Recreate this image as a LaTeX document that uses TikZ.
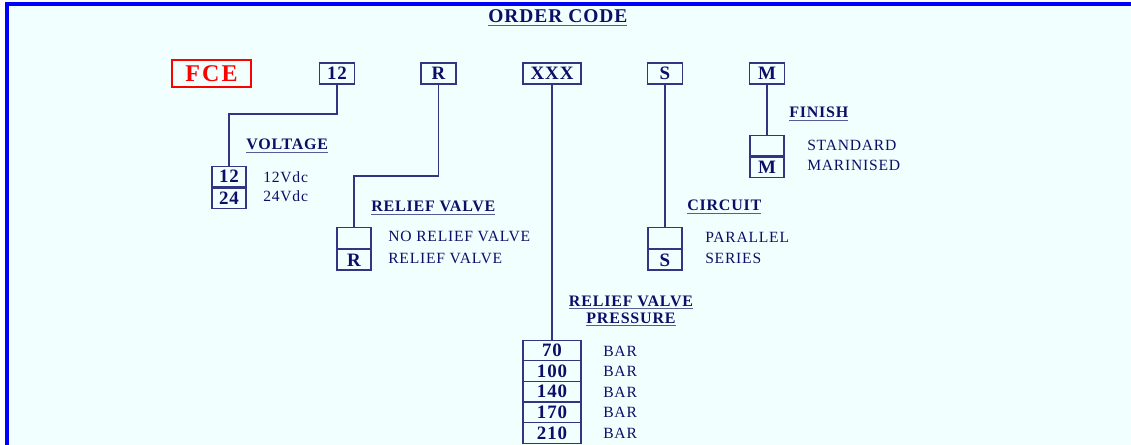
\documentclass[tikz,border=0pt]{standalone}
\usepackage{fontspec}
\setmainfont[LetterSpace=5]{Liberation Serif}
\newfontfamily\widefont[LetterSpace=9]{Liberation Serif}
\usetikzlibrary{positioning}

\definecolor{navy}{RGB}{14,14,104}
\definecolor{wirecol}{RGB}{52,52,130}
\definecolor{ulcol}{RGB}{90,90,150}
\definecolor{framecol}{RGB}{0,0,250}
\definecolor{bgcol}{RGB}{241,255,255}
\definecolor{fcered}{RGB}{255,0,0}

% underlined heading
\newcommand{\ulbl}[1]{\vtop{\hbox{#1}\kern1.2pt{\color{ulcol}\hrule height 1.1pt}}}

\tikzset{
  wire/.style={draw=wirecol, line width=1.1pt},
  codebox/.style={draw=wirecol, line width=1pt, inner sep=0pt, text=navy,
    minimum width=26.25pt, minimum height=15.75pt,
    font=\fontsize{14.2}{14.2}\selectfont\bfseries},
  optbox/.style={draw=wirecol, line width=1pt, inner sep=0pt, text=navy,
    minimum width=25.5pt, minimum height=15.4pt,
    font=\fontsize{14.2}{14.2}\selectfont\bfseries},
  heading/.style={anchor=base west, inner sep=0pt, text=navy,
    font=\fontsize{12}{12}\selectfont\bfseries},
  opttext/.style={anchor=base west, inner sep=0pt, text=navy,
    font=\fontsize{11.7}{11.7}\selectfont},
}

\begin{document}
\begin{tikzpicture}[x=0.75pt, y=-0.75pt]

  % ==========================================
  % frame and background
  % ==========================================
  \useasboundingbox (0,0) rectangle (1131,445);
  \fill[white] (0,0) rectangle (1131,445);
  \fill[bgcol] (8,5) rectangle (1131,445);
  \draw[framecol, line width=2.3pt] (7,445) -- (7,4) -- (1131,4);

  \node[heading, font=\fontsize{14.6}{14.6}\selectfont\bfseries] (title) at (488,23) {\ulbl{ORDER CODE}};

  % ==========================================
  % code fields
  % ==========================================
  \node[draw=fcered, line width=1pt, text=fcered, minimum width=59.25pt, minimum height=20.25pt,
        inner sep=0pt, font=\fontsize{18}{18}\selectfont\widefont\bfseries] (fce) at (211.5,73.5) {FCE};
  \node[codebox] (c12) at (337,73.5) {12};
  \node[codebox] (cR) at (438.5,73.5) {R};
  \node[codebox, minimum width=43.5pt] (cX) at (552,73.5) {XXX};
  \node[codebox] (cS) at (665,73.5) {S};
  \node[codebox] (cM) at (767,73.5) {M};

  % ==========================================
  % voltage
  % ==========================================
  \node[heading] (lV) at (246,150) {\ulbl{VOLTAGE}};
  \node[optbox] (v1) at (229,176.5) {12};
  \node[optbox, below=0pt of v1] (v2) {24};
  \node[opttext] (tv1) at (263,183) {12Vdc};
  \node[opttext] (tv2) at (263,202) {24Vdc};
  \coordinate (k12) at (337,114);
  \draw[wire] (c12.south) -- (k12) -| (v1.north);

  % ==========================================
  % relief valve
  % ==========================================
  \node[heading] (lR) at (371,212) {\ulbl{RELIEF VALVE}};
  \node[optbox] (r1) at (354,238) {};
  \node[optbox, below=0pt of r1] (r2) {R};
  \node[opttext] (tr1) at (388,242) {NO RELIEF VALVE};
  \node[opttext] (tr2) at (388,263) {RELIEF VALVE};
  \coordinate (kR) at (438.5,176);
  \draw[wire] (cR.south) -- (kR) -| (r1.north);

  % ==========================================
  % relief valve pressure
  % ==========================================
  \node[heading, anchor=base] (lP1) at (631,306) {\ulbl{RELIEF VALVE}};
  \node[heading, anchor=base] (lP2) at (631,323) {\ulbl{PRESSURE}};
  \foreach \k / \val in {1/70, 2/100, 3/140, 4/170, 5/210}{
    \pgfmathsetmacro{\y}{350.5 + (\k-1)*20.6}
    \node[optbox, minimum width=43.5pt, minimum height=15.45pt] (p\k) at (552,\y) {\val};
    \node[opttext] (tp\k) at (603,\y+5.5) {BAR};
  }
  \draw[wire] (cX.south) -- (p1.north);

  % ==========================================
  % circuit
  % ==========================================
  \node[heading] (lC) at (687,211) {\ulbl{CIRCUIT}};
  \node[optbox] (s1) at (665,238) {};
  \node[optbox, below=0pt of s1] (s2) {S};
  \node[opttext] (ts1) at (705,243) {PARALLEL};
  \node[opttext] (ts2) at (705,263) {SERIES};
  \draw[wire] (cS.south) -- (s1.north);

  % ==========================================
  % finish
  % ==========================================
  \node[heading] (lF) at (789,118) {\ulbl{FINISH}};
  \node[optbox] (f1) at (767,145.5) {};
  \node[optbox, below=0pt of f1] (f2) {M};
  \node[opttext] (tf1) at (807,151) {STANDARD};
  \node[opttext] (tf2) at (807,171) {MARINISED};
  \draw[wire] (cM.south) -- (f1.north);

\end{tikzpicture}
\end{document}
